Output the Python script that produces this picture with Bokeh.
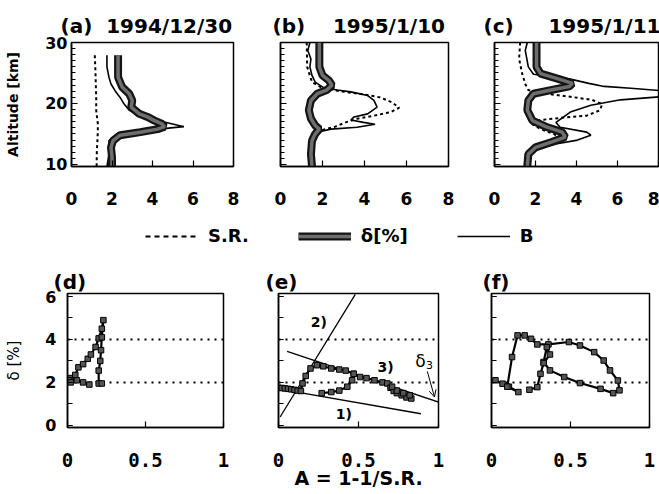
from bokeh.plotting import figure
from bokeh.layouts import column, row
from bokeh.models import (Arrow, OpenHead, Legend, LegendItem, Label,
                          SingleIntervalTicker, FixedTicker, Range1d)
from bokeh.embed import file_html
from bokeh.resources import INLINE

# ---------------- data: profiles (altitude km, value) ----------------
a_alt_sr = [27.9, 25.5, 23.2, 21.0, 18.9, 17.5, 16.7, 15.5, 13.9, 12.0, 9.7]
a_sr = [1.15, 1.18, 1.2, 1.22, 1.22, 1.27, 1.3, 1.3, 1.28, 1.25, 1.24]
a_alt_b = [27.9, 26.0, 24.3, 23.2, 22.1, 21.0, 19.9, 18.9, 18.0, 17.2, 16.6, 16.2, 16.0, 15.6, 15.0, 14.5, 13.9, 11.7, 9.7]
a_b = [1.75, 1.75, 1.85, 1.95, 2.15, 2.4, 2.6, 2.85, 3.4, 4.25, 5.05, 5.55, 4.9, 3.9, 2.75, 2.1, 1.85, 1.85, 1.75]
a_alt_delta = [27.9, 24.3, 22.7, 21.6, 20.5, 19.4, 18.3, 17.8, 17.2, 16.7, 16.2, 15.8, 15.3, 14.8, 13.9, 12.8, 11.2, 9.7]
a_delta = [2.3, 2.3, 2.5, 2.85, 3.0, 2.95, 3.35, 3.75, 4.1, 4.45, 4.6, 4.25, 3.4, 2.4, 2.05, 1.95, 2.0, 2.0]

b_alt_sr = [30.0, 26.0, 23.5, 22.6, 22.0, 21.5, 21.0, 20.2, 19.3, 18.6, 18.0, 17.5, 16.9, 16.2, 15.7, 15.0, 13.9, 9.7]
b_sr = [1.25, 1.27, 1.5, 1.95, 2.85, 3.95, 4.75, 5.3, 5.65, 5.25, 4.45, 3.65, 3.1, 2.6, 2.05, 1.6, 1.4, 1.4]
b_alt_b = [30.0, 28.7, 27.3, 26.0, 24.6, 23.5, 22.6, 22.2, 21.9, 21.3, 20.5, 19.4, 18.3, 17.8, 17.3, 16.9, 16.6, 16.1, 15.8, 15.3, 13.9, 9.7]
b_b = [1.4, 1.3, 1.45, 1.4, 1.5, 1.65, 2.05, 2.7, 3.35, 4.15, 4.45, 4.6, 4.15, 3.5, 3.35, 3.95, 4.5, 3.65, 2.4, 1.75, 1.45, 1.45]
b_alt_delta = [30.0, 26.0, 24.6, 23.8, 23.0, 22.2, 21.6, 20.5, 18.9, 17.5, 16.4, 15.8, 15.0, 13.9, 11.7, 9.7]
b_delta = [1.85, 1.85, 2.0, 2.3, 2.45, 2.2, 1.75, 1.45, 1.35, 1.45, 1.65, 1.85, 1.65, 1.5, 1.45, 1.5]

c_alt_sr = [30.0, 27.3, 24.9, 23.2, 22.2, 21.7, 21.1, 20.6, 19.9, 18.9, 18.0, 17.7, 17.3, 16.8, 15.8, 15.0, 14.4, 13.7, 12.8, 9.7]
c_sr = [1.25, 1.2, 1.35, 1.5, 1.65, 2.25, 3.7, 4.75, 5.25, 5.15, 4.5, 3.4, 2.25, 1.75, 2.25, 2.9, 3.15, 2.55, 1.85, 1.6]
c_alt_b = [30.0, 28.7, 26.0, 24.8, 24.0, 23.3, 22.8, 22.5, 22.1, 21.1, 20.6, 19.7, 18.6, 16.9, 16.1, 15.3, 14.8, 14.0, 13.4, 12.6, 11.5, 9.7]
c_b = [1.6, 1.5, 1.65, 1.9, 3.7, 4.6, 5.35, 6.65, 8.1, 8.1, 6.15, 4.7, 3.7, 3.0, 3.2, 4.5, 4.7, 4.05, 3.05, 2.1, 1.65, 1.65]
c_alt_delta = [30.0, 26.0, 24.9, 24.0, 23.3, 22.8, 22.2, 21.6, 20.5, 18.9, 17.2, 16.2, 15.3, 14.5, 13.7, 12.8, 11.7, 9.7]
c_delta = [2.05, 2.05, 2.25, 3.15, 3.8, 3.65, 2.75, 1.9, 1.65, 1.6, 1.85, 2.5, 3.3, 3.45, 2.8, 2.0, 1.65, 1.6]

NB = "\u00a0"
top_titles = ["(a)" + NB * 2 + "1994/12/30", "(b)" + NB * 4 + "1995/1/10", "(c)" + NB * 5 + "1995/1/11"]
top_xtick_step = 2
top_ytick_step = 10

# ---------------- data: delta vs A ----------------
d_a = [0.14, 0.10, 0.06, 0.02, 0.01, 0.02, 0.05, 0.07, 0.10, 0.13, 0.15, 0.18, 0.20, 0.22, 0.23, 0.22, 0.215, 0.21, 0.20, 0.20, 0.22]
d_d = [1.9, 2.0, 2.1, 2.2, 2.1, 2.0, 2.35, 2.7, 2.85, 3.1, 3.3, 3.65, 4.05, 4.5, 4.9, 4.1, 3.5, 3.0, 2.55, 1.95, 1.95]

e_a = [0.0, 0.02, 0.04, 0.06, 0.08, 0.10, 0.12, 0.14, 0.15, 0.17, 0.20, 0.24, 0.28, 0.33, 0.38, 0.42, 0.47, 0.51, 0.55, 0.60, 0.65, 0.68, 0.70, 0.72, 0.74, 0.77, 0.80, 0.83, 0.82, 0.78, 0.74, 0.71]
e_d = [1.75, 1.74, 1.72, 1.7, 1.68, 1.65, 1.62, 1.6, 1.95, 2.3, 2.65, 2.8, 2.75, 2.65, 2.6, 2.55, 2.4, 2.25, 2.2, 2.1, 2.0, 1.95, 1.75, 1.6, 1.5, 1.4, 1.3, 1.25, 1.4, 1.5, 1.62, 1.8]
e_loop_a = [0.47, 0.46, 0.43, 0.38, 0.33, 0.27]
e_loop_d = [2.4, 2.1, 1.8, 1.62, 1.55, 1.5]

line1_a, line1_d = [0.0, 0.89], [1.7, 0.54]
line2_a, line2_d = [0.01, 0.48], [0.39, 6.1]
line3_a, line3_d = [0.054, 1.095], [3.44, 0.85]

f_a = [0.025, 0.07, 0.11, 0.17, 0.10, 0.13, 0.165, 0.21, 0.25, 0.29, 0.36, 0.49, 0.56, 0.65, 0.71, 0.75, 0.80, 0.81, 0.77, 0.69, 0.56, 0.46, 0.37, 0.33, 0.35, 0.37, 0.33, 0.31, 0.29, 0.24]
f_d = [2.1, 1.94, 1.8, 1.55, 1.8, 3.18, 4.19, 4.19, 4.03, 3.77, 3.77, 3.88, 3.72, 3.41, 3.02, 2.56, 2.09, 1.63, 1.5, 1.7, 1.97, 2.25, 2.56, 2.95, 3.64, 3.3, 2.9, 2.4, 1.78, 1.66]

bottom_letters = ["(d)", "(e)", "(f)"]
ref_levels = [2, 4]
a_ticks = [0, 0.5, 1]
a_tick_labels = {0: "0", 0.5: "0.5", 1: "1"}

FONT = "DejaVu Sans"
MONO = "DejaVu Sans Mono"
BAND_OUT = "#141414"
BAND_IN = "#6e6e6e"


def label(p, x, y, text, size, bold=True, align="center"):
    p.add_layout(Label(x=x, y=y, text=text, text_font=FONT, text_font_size=f"{size}px",
                       text_font_style="bold" if bold else "normal", text_align=align,
                       text_baseline="middle", text_color="black"))


def set_title(p, text, offset, standoff):
    p.title.text = text
    p.title.align = "left"
    p.title.offset = offset
    p.title.standoff = standoff
    p.title.text_font = FONT
    p.title.text_font_size = "20px"
    p.title.text_font_style = "bold"
    p.title.text_color = "black"


def base_style(p):
    p.xgrid.visible = False
    p.ygrid.visible = False
    p.outline_line_color = "black"
    p.outline_line_width = 1.5
    p.background_fill_color = "white"
    p.border_fill_color = "white"
    for ax in (p.xaxis[0], p.yaxis[0]):
        ax.axis_line_color = "black"
        ax.axis_line_width = 1.5
        ax.major_tick_line_color = "black"
        ax.minor_tick_line_color = "black"
        ax.major_tick_line_width = 1.2
        ax.minor_tick_line_width = 1.2
        ax.major_tick_out = 0
        ax.minor_tick_out = 0


def top_panel(width, bl, br, title, t_off, sr_alt, sr, b_alt, b, d_alt, d, show_y):
    p = figure(width=width, height=214, x_range=Range1d(0, 8), y_range=Range1d(9.67, 30.0),
               output_backend="svg", toolbar_location=None,
               min_border_left=bl, min_border_right=br, min_border_top=42, min_border_bottom=48)
    base_style(p)
    set_title(p, title, t_off, 10)
    xa, ya = p.xaxis[0], p.yaxis[0]
    xa.ticker = SingleIntervalTicker(interval=top_xtick_step, num_minor_ticks=0)
    xa.major_tick_in = 6
    xa.major_label_standoff = 25
    xa.major_label_text_font = FONT
    xa.major_label_text_font_style = "bold"
    xa.major_label_text_font_size = "17px"
    xa.major_label_text_color = "black"
    ya.ticker = SingleIntervalTicker(interval=top_ytick_step, num_minor_ticks=10)
    ya.major_tick_in = 6
    ya.minor_tick_in = 4
    if show_y:
        ya.major_label_standoff = 4
        ya.major_label_text_font = FONT
        ya.major_label_text_font_style = "bold"
        ya.major_label_text_font_size = "16px"
        ya.major_label_text_color = "black"
        ya.axis_label = "Altitude [km]"
        ya.axis_label_text_font = FONT
        ya.axis_label_text_font_style = "bold"
        ya.axis_label_text_font_size = "14px"
        ya.axis_label_text_color = "black"
        ya.axis_label_standoff = 21
    else:
        ya.major_label_overrides = {10: "", 20: "", 30: ""}
        ya.major_label_text_font_size = "0px"
        ya.major_label_standoff = 0

    p.line(sr, sr_alt, line_color="black", line_width=2, line_dash="3 3")
    p.line(b, b_alt, line_color="black", line_width=1.6)
    p.line(d, d_alt, line_color=BAND_OUT, line_width=8)
    p.line(d, d_alt, line_color=BAND_IN, line_width=3.5)
    return p


def bottom_panel(width, bl, br, title, t_off, show_y, xlabel=None):
    p = figure(width=width, height=236, x_range=Range1d(0, 1), y_range=Range1d(-0.1, 6.14),
               output_backend="svg", toolbar_location=None,
               min_border_left=bl, min_border_right=br, min_border_top=35, min_border_bottom=67)
    base_style(p)
    set_title(p, title, t_off, 0)
    p.ygrid.visible = True
    p.ygrid[0].ticker = FixedTicker(ticks=ref_levels)
    p.ygrid.grid_line_color = "black"
    p.ygrid.grid_line_width = 2
    p.ygrid.grid_line_dash = "2 5"
    xa, ya = p.xaxis[0], p.yaxis[0]
    xa.ticker = FixedTicker(ticks=a_ticks)
    xa.major_label_overrides = a_tick_labels
    xa.major_tick_in = 6
    xa.major_label_standoff = 25
    xa.major_label_text_font = MONO
    xa.major_label_text_font_style = "bold"
    xa.major_label_text_font_size = "19px"
    xa.major_label_text_color = "black"
    if xlabel:
        xa.axis_label = xlabel
        xa.axis_label_text_font = FONT
        xa.axis_label_text_font_style = "bold"
        xa.axis_label_text_font_size = "19px"
        xa.axis_label_text_color = "black"
        xa.axis_label_standoff = -3
    ya.ticker = SingleIntervalTicker(interval=2, num_minor_ticks=2)
    ya.major_tick_in = 5
    ya.minor_tick_in = 5
    if show_y:
        ya.major_label_standoff = 11
        ya.major_label_text_font = FONT
        ya.major_label_text_font_style = "bold"
        ya.major_label_text_font_size = "16px"
        ya.major_label_text_color = "black"
        ya.axis_label = "δ [%]"
        ya.axis_label_text_font = FONT
        ya.axis_label_text_font_style = "normal"
        ya.axis_label_text_font_size = "15px"
        ya.axis_label_text_color = "black"
        ya.axis_label_standoff = 19
    else:
        ya.major_label_overrides = {0: "", 2: "", 4: "", 6: ""}
        ya.major_label_text_font_size = "0px"
        ya.major_label_standoff = 0
    return p


def delta_path(p, a, d):
    p.line(a, d, line_color="black", line_width=2.2)
    p.scatter(a, d, marker="square", size=5.5, fill_color="#555555", line_color="black", line_width=1)


# ---------------- top row ----------------
pa = top_panel(256, 71, 23, top_titles[0], -11, a_alt_sr, a_sr, a_alt_b, a_b, a_alt_delta, a_delta, True)
pb = top_panel(215, 24, 23, top_titles[1], -8, b_alt_sr, b_sr, b_alt_b, b_b, b_alt_delta, b_delta, False)
pc = top_panel(188, 23, 1, top_titles[2], -11, c_alt_sr, c_sr, c_alt_b, c_b, c_alt_delta, c_delta, False)

# ---------------- legend row (key glyphs only; data lies outside the visible range) ----------------
leg = figure(width=659, height=44, x_range=Range1d(100, 101), y_range=Range1d(100, 101),
             output_backend="svg", toolbar_location=None, min_border=0,
             x_axis_location=None, y_axis_location=None)
leg.xgrid.visible = False
leg.ygrid.visible = False
leg.outline_line_color = None
leg.background_fill_color = "white"
leg.border_fill_color = "white"
r_sr = leg.line(a_sr, a_alt_sr, line_color="black", line_width=2, line_dash="5 4")
r_d1 = leg.line(a_delta, a_alt_delta, line_color=BAND_OUT, line_width=8)
r_d2 = leg.line(a_delta, a_alt_delta, line_color=BAND_IN, line_width=3.5)
r_b = leg.line(a_b, a_alt_b, line_color="black", line_width=1.6)
legend = Legend(items=[LegendItem(label="S.R.", renderers=[r_sr]),
                       LegendItem(label="δ[%]", renderers=[r_d1, r_d2]),
                       LegendItem(label="B", renderers=[r_b])],
                orientation="horizontal", location=(145, 12), glyph_width=53, glyph_height=20,
                label_standoff=10, spacing=49, padding=0, margin=0,
                border_line_color=None, background_fill_alpha=0,
                label_text_font=FONT, label_text_font_style="bold", label_text_font_size="18px",
                label_text_color="black")
leg.add_layout(legend)

# ---------------- bottom row ----------------
pd = bottom_panel(250, 67, 27, bottom_letters[0], -14, True)
pe = bottom_panel(213, 28, 25, bottom_letters[1], -13, False, xlabel="A = 1-1/S.R.")
pf = bottom_panel(196, 28, 10, bottom_letters[2], -9, False)

delta_path(pd, d_a, d_d)

pe.line(line1_a, line1_d, line_color="black", line_width=1.3)
pe.line(line2_a, line2_d, line_color="black", line_width=1.3)
pe.line(line3_a, line3_d, line_color="black", line_width=1.3)
delta_path(pe, e_a, e_d)
delta_path(pe, e_loop_a, e_loop_d)
pe.add_layout(Arrow(end=OpenHead(size=7, line_width=1, line_color="black"), x_start=0.93, y_start=2.51,
                    x_end=0.975, y_end=1.32, line_color="black", line_width=1))
label(pe, 0.408, 0.54, "1)", 14)
label(pe, 0.252, 4.8, "2)", 14)
label(pe, 0.669, 2.74, "3)", 14)
label(pe, 0.8875, 2.99, "δ", 17, bold=False)
label(pe, 0.944, 2.80, "3", 11, bold=False)

delta_path(pf, f_a, f_d)

layout = column(row(pa, pb, pc), leg, row(pd, pe, pf))
open("out.html", "w").write(file_html(layout, INLINE))
